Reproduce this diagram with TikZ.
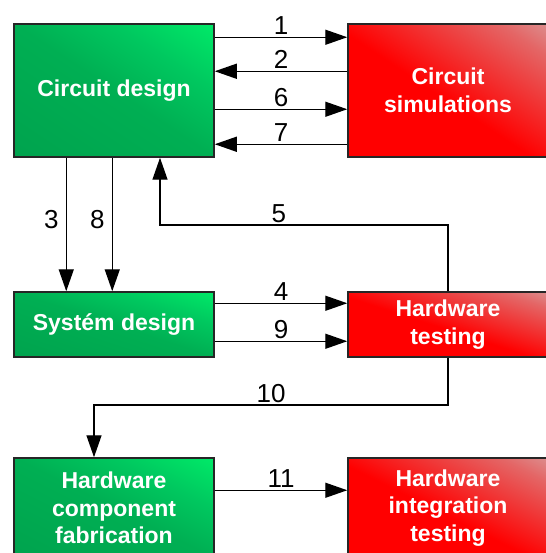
\documentclass[tikz,border=0pt]{standalone}
\usepackage{fontspec}
\setmainfont{Liberation Sans}
\usepackage{tikz}
\usetikzlibrary{arrows.meta,backgrounds}
\definecolor{gbot}{RGB}{0,163,78}
\definecolor{gmid}{RGB}{0,175,83}
\definecolor{gup}{RGB}{0,200,95}
\definecolor{gtop}{RGB}{0,234,104}
\definecolor{rbot}{RGB}{255,0,0}
\definecolor{rup}{RGB}{236,70,70}
\definecolor{rhi}{RGB}{228,102,102}
\definecolor{rtop}{RGB}{220,142,142}
\pgfdeclareverticalshading{greenfill}{100bp}{color(0bp)=(gbot); color(25bp)=(gbot); color(50bp)=(gmid); color(62.5bp)=(gup); color(75bp)=(gtop); color(100bp)=(gtop)}
\pgfdeclareverticalshading{redfill}{100bp}{color(0bp)=(rbot); color(48bp)=(rbot); color(62.5bp)=(rup); color(69bp)=(rhi); color(75bp)=(rtop); color(100bp)=(rtop)}
% diagonal gradient behind a box: #1 node, #2 shading, #3 width, #4 height
\newcommand{\gradfill}[4]{%
	\pgfmathsetmacro\gfang{-atan(#4/#3)}%
	\pgfmathsetmacro\gfn{veclen(#3,#4)}%
	\pgfmathsetmacro\gfl{#3/\gfn*#4}%
	\pgfmathsetmacro\gfp{\gfn/2}%
	\begin{scope}
		\clip (#1.south west) rectangle (#1.north east);
		\begin{scope}[transform canvas={rotate around={\gfang:(#1.center)}}]
			\shade[shading=#2] ([shift={(-\gfp,-\gfl)}]#1.center) rectangle ([shift={(\gfp,\gfl)}]#1.center);
		\end{scope}
	\end{scope}}
\begin{document}
\begin{tikzpicture}[x=1pt,y=-1pt,
	box/.style={draw=black!85,line width=1.5pt,minimum width=200pt,align=center,text=white,font=\fontsize{23}{27.5}\selectfont\bfseries},
	lbl/.style={font=\fontsize{26}{26}\selectfont,inner sep=2pt},
	flow/.style={line width=1.4pt,-{Triangle[length=22pt,width=15pt]}}]
	\useasboundingbox (0,0) rectangle (545,553);
	\node[box,minimum height=133pt] (cdes) at (114,90.5) {Circuit design};
	\node[box,minimum height=133pt] (csim) at (448,90.5) {Circuit\\simulations};
	\node[box,minimum height=65pt] (sdes) at (114,324.5) {Systém design};
	\node[box,minimum height=65pt] (hwt) at (448,324.5) {Hardware\\testing};
	\node[box,minimum height=100pt] (fab) at (114,508) {Hardware\\component\\fabrication};
	\node[box,minimum height=100pt] (integ) at (448,508) {Hardware\\integration\\testing};
	\begin{scope}[on background layer]
		\foreach \n/\s/\h in {cdes/greenfill/133,csim/redfill/133,sdes/greenfill/65,hwt/redfill/65,fab/greenfill/100,integ/redfill/100}
			\gradfill{\n}{\s}{200}{\h};
	\end{scope}
	% circuit design <-> simulations
	\draw[flow] ([yshift=-14pt]cdes.north east) -- node[lbl,above] (l1) {1} ([yshift=-14pt]csim.north west);
	\draw[flow] ([yshift=-48pt]csim.north west) -- node[lbl,above] (l2) {2} ([yshift=-48pt]cdes.north east);
	\draw[flow] ([yshift=-86pt]cdes.north east) -- node[lbl,above] (l6) {6} ([yshift=-86pt]csim.north west);
	\draw[flow] ([yshift=-121pt]csim.north west) -- node[lbl,above] (l7) {7} ([yshift=-121pt]cdes.north east);
	% down to system design
	\draw[flow] ([xshift=53pt]cdes.south west) -- node[lbl,left,pos=0.46,xshift=-5pt] (l3) {3} ([xshift=53pt]sdes.north west);
	\draw[flow] ([xshift=99pt]cdes.south west) -- node[lbl,left,pos=0.46,xshift=-5pt] (l8) {8} ([xshift=99pt]sdes.north west);
	% feedback from testing
	\coordinate (c5a) at (448,225);
	\coordinate (c5b) at (160,225);
	\draw[flow] (hwt.north) -- (c5a) -- node[lbl,above,pos=0.587] (l5) {5} (c5b) -- (cdes.south -| c5b);
	\draw[flow] ([yshift=-12pt]sdes.north east) -- node[lbl,above] (l4) {4} ([yshift=-12pt]hwt.north west);
	\draw[flow] ([yshift=-50pt]sdes.north east) -- node[lbl,above] (l9) {9} ([yshift=-50pt]hwt.north west);
	% to fabrication
	\coordinate (c10a) at (448,405);
	\coordinate (c10b) at (94,405);
	\draw[flow] (hwt.south) -- (c10a) -- node[lbl,above] (l10) {10} (c10b) -- (fab.north -| c10b);
	\draw[flow] ([yshift=-33pt]fab.north east) -- node[lbl,above] (l11) {11} ([yshift=-33pt]integ.north west);
\end{tikzpicture}
\end{document}
